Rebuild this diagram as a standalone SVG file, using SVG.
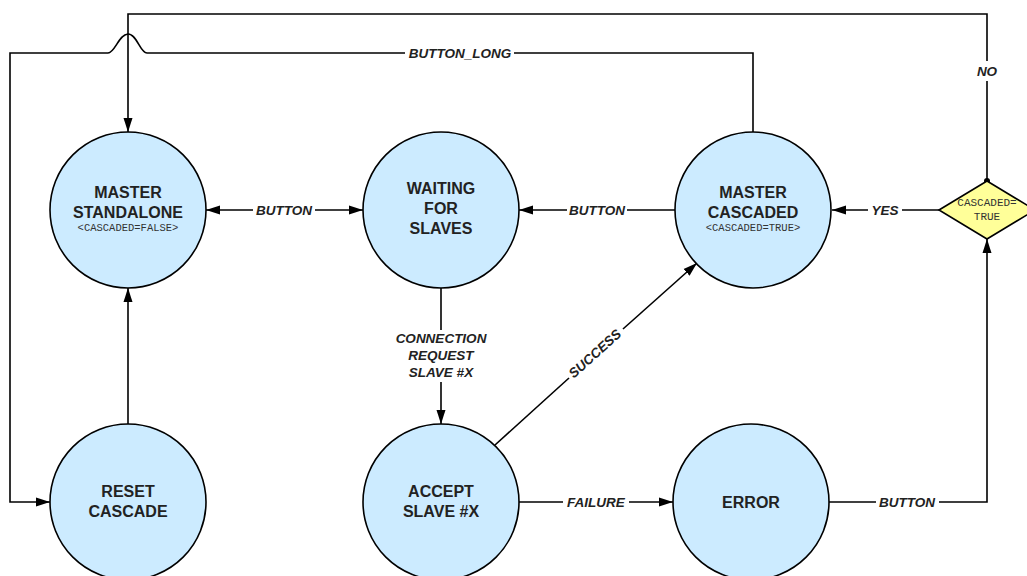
<svg xmlns="http://www.w3.org/2000/svg" width="1027" height="576" viewBox="0 0 1027 576">
<defs>
<marker id="ah" markerWidth="14" markerHeight="10" refX="14" refY="5" orient="auto" markerUnits="userSpaceOnUse">
<path d="M0,0.5 L14,5 L0,9.5 Z" fill="#000"/>
</marker>
<marker id="ahs" markerWidth="14" markerHeight="10" refX="0" refY="5" orient="auto" markerUnits="userSpaceOnUse">
<path d="M14,0.5 L0,5 L14,9.5 Z" fill="#000"/>
</marker>
<style>
.st{fill:#CCEBFF;stroke:#000;stroke-width:1.6}
.dec{fill:#FFFF99;stroke:#000;stroke-width:1.6}
.ln{fill:none;stroke:#000;stroke-width:1.6}
.nt{font-family:"Liberation Sans",Arial,sans-serif;font-weight:bold;font-size:16px;fill:#222;text-anchor:middle}
.sub{font-family:"Liberation Mono","Courier New",monospace;font-size:10.5px;fill:#333;text-anchor:middle}
.dt{font-family:"Liberation Mono","Courier New",monospace;font-size:11px;fill:#333;text-anchor:middle}
.lb{font-family:"Liberation Sans",Arial,sans-serif;font-weight:bold;font-style:italic;font-size:13.5px;fill:#222;text-anchor:middle}
</style>
</defs>
<rect width="1027" height="576" fill="#fff"/>
<g id="connectors">
<line class="ln" x1="206" y1="210" x2="253" y2="210" marker-start="url(#ahs)"/>
<line class="ln" x1="315" y1="210" x2="363" y2="210" marker-end="url(#ah)"/>
<text class="lb" x="284" y="215">BUTTON</text>
<line class="ln" x1="675" y1="210" x2="627" y2="210"/>
<line class="ln" x1="567" y1="210" x2="519" y2="210" marker-end="url(#ah)"/>
<text class="lb" x="597" y="215">BUTTON</text>
<line class="ln" x1="939" y1="210" x2="902" y2="210"/>
<line class="ln" x1="868" y1="210" x2="832" y2="210" marker-end="url(#ah)"/>
<text class="lb" x="885" y="215">YES</text>
<path class="ln" d="M987,181 V81"/>
<path class="ln" d="M987,61 V14 H128 V132" marker-end="url(#ah)"/>
<circle cx="987" cy="181" r="3" fill="#000"/>
<text class="lb" x="987" y="76">NO</text>
<path class="ln" d="M753,132 V53 H514"/>
<path class="ln" d="M405,53 H147 C140,53 137,34 128,34 C119,34 115,53 108,53 H10 V502 H50" marker-end="url(#ah)"/>
<text class="lb" x="460" y="58">BUTTON_LONG</text>
<line class="ln" x1="128" y1="424" x2="128" y2="288" marker-end="url(#ah)"/>
<line class="ln" x1="441" y1="288" x2="441" y2="330"/>
<line class="ln" x1="441" y1="382" x2="441" y2="424" marker-end="url(#ah)"/>
<text class="lb"><tspan x="441" y="343">CONNECTION</tspan><tspan x="441" y="360">REQUEST</tspan><tspan x="441" y="377">SLAVE #X</tspan></text>
<line class="ln" x1="495" y1="445" x2="569" y2="378"/>
<line class="ln" x1="623" y1="329" x2="697" y2="263" marker-end="url(#ah)"/>
<text class="lb" transform="translate(598,357) rotate(-42)" x="0" y="0">SUCCESS</text>
<line class="ln" x1="519" y1="502" x2="563" y2="502"/>
<line class="ln" x1="629" y1="502" x2="673" y2="502" marker-end="url(#ah)"/>
<text class="lb" x="596" y="507">FAILURE</text>
<line class="ln" x1="828" y1="502" x2="876" y2="502"/>
<path class="ln" d="M939,502 H987 V239" marker-end="url(#ah)"/>
<text class="lb" x="907" y="507">BUTTON</text>
</g>
<g id="master-standalone">
<circle class="st" cx="128" cy="210" r="78"/>
<text class="nt" x="128" y="198">MASTER</text>
<text class="nt" x="128" y="218">STANDALONE</text>
<text class="sub" x="128" y="231">&lt;CASCADED=FALSE&gt;</text>
</g>
<g id="waiting-for-slaves">
<circle class="st" cx="441" cy="210" r="78"/>
<text class="nt" x="441" y="194">WAITING</text>
<text class="nt" x="441" y="214">FOR</text>
<text class="nt" x="441" y="234">SLAVES</text>
</g>
<g id="master-cascaded">
<circle class="st" cx="753" cy="210" r="78"/>
<text class="nt" x="753" y="198">MASTER</text>
<text class="nt" x="753" y="218">CASCADED</text>
<text class="sub" x="753" y="231">&lt;CASCADED=TRUE&gt;</text>
</g>
<g id="cascaded-decision">
<polygon class="dec" points="939,210 987,181 1035,210 987,239"/>
<text class="dt" x="987" y="206">CASCADED=</text>
<text class="dt" x="987" y="220">TRUE</text>
</g>
<g id="reset-cascade">
<circle class="st" cx="128" cy="502" r="78"/>
<text class="nt" x="128" y="497">RESET</text>
<text class="nt" x="128" y="517">CASCADE</text>
</g>
<g id="accept-slave">
<circle class="st" cx="441" cy="502" r="78"/>
<text class="nt" x="441" y="497">ACCEPT</text>
<text class="nt" x="441" y="517">SLAVE #X</text>
</g>
<g id="error">
<circle class="st" cx="751" cy="502" r="78"/>
<text class="nt" x="751" y="508">ERROR</text>
</g>
</svg>
